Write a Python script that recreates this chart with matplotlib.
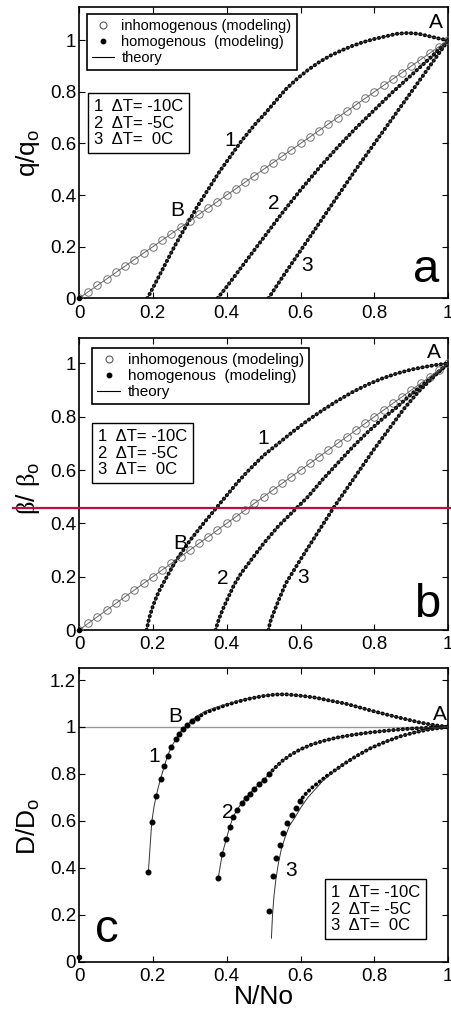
import matplotlib.pyplot as plt
import numpy as np
from matplotlib.lines import Line2D

plt.rcParams['font.family'] = ['Liberation Sans', 'DejaVu Sans']
plt.rcParams['mathtext.fontset'] = 'custom'
plt.rcParams['mathtext.rm'] = 'Liberation Sans'
plt.rcParams['mathtext.sf'] = 'Liberation Serif'

# inhomogenous medium: same relative curve in panels a and b
inh_n = [0.0, 0.025, 0.05, 0.075, 0.1, 0.125, 0.15, 0.175, 0.2, 0.225, 0.25, 0.275,
         0.3, 0.325, 0.35, 0.375, 0.4, 0.425, 0.45, 0.475, 0.5, 0.525, 0.55, 0.575,
         0.6, 0.625, 0.65, 0.675, 0.7, 0.725, 0.75, 0.775, 0.8, 0.825, 0.85, 0.875,
         0.9, 0.925, 0.95, 0.975, 1.0]
inh_val = [0.0, 0.025, 0.05, 0.075, 0.1, 0.125, 0.15, 0.175, 0.2, 0.225, 0.25, 0.275,
           0.3, 0.325, 0.35, 0.375, 0.4, 0.425, 0.45, 0.475, 0.5, 0.525, 0.55, 0.575,
           0.6, 0.625, 0.65, 0.675, 0.7, 0.725, 0.75, 0.775, 0.8, 0.825, 0.85, 0.875,
           0.9, 0.925, 0.95, 0.975, 1.0]
inh_theory_n = [0.0, 1.0]
inh_theory_val = [0.0, 1.0]

# panel a: q/qo, homogenous medium
a1_n = [0.185, 0.20, 0.22, 0.24, 0.26, 0.28, 0.30, 0.32, 0.34, 0.36, 0.38, 0.40, 0.42,
        0.44, 0.46, 0.48, 0.50, 0.53, 0.56, 0.59, 0.62, 0.65, 0.68, 0.71, 0.74, 0.77,
        0.80, 0.83, 0.86, 0.89, 0.92, 0.95, 0.98, 1.00]
a1_q = [0.0, 0.04, 0.095, 0.15, 0.205, 0.255, 0.305, 0.355, 0.40, 0.445, 0.49, 0.53, 0.57,
        0.61, 0.645, 0.68, 0.71, 0.76, 0.81, 0.85, 0.885, 0.915, 0.94, 0.96, 0.978, 0.993,
        1.005, 1.015, 1.025, 1.028, 1.025, 1.015, 1.005, 1.0]
a2_n = [0.375, 0.40, 0.45, 0.50, 0.55, 0.60, 0.65, 0.70, 0.75, 0.80, 0.85, 0.90, 0.95, 1.0]
a2_q = [0.0, 0.045, 0.14, 0.235, 0.33, 0.42, 0.505, 0.585, 0.66, 0.73, 0.80, 0.865, 0.93, 1.0]
a3_n = [0.513, 0.55, 0.60, 0.65, 0.70, 0.75, 0.80, 0.85, 0.90, 0.95, 1.0]
a3_q = [0.0, 0.08, 0.185, 0.29, 0.395, 0.50, 0.60, 0.70, 0.80, 0.90, 1.0]

# panel b: beta/beta_o
b1_n = [0.183, 0.19, 0.20, 0.21, 0.22, 0.24, 0.26, 0.28, 0.30, 0.32, 0.34, 0.36, 0.38,
        0.40, 0.43, 0.46, 0.50, 0.54, 0.58, 0.62, 0.66, 0.70, 0.74, 0.78, 0.82, 0.86,
        0.90, 0.94, 0.97, 1.0]
b1_beta = [0.0, 0.045, 0.09, 0.125, 0.155, 0.205, 0.255, 0.295, 0.335, 0.37, 0.405, 0.438,
           0.472, 0.505, 0.555, 0.60, 0.655, 0.70, 0.745, 0.787, 0.825, 0.86, 0.892, 0.92,
           0.943, 0.962, 0.977, 0.988, 0.995, 1.0]
b2_n = [0.370, 0.375, 0.38, 0.39, 0.40, 0.42, 0.44, 0.47, 0.50, 0.54, 0.58, 0.62, 0.66,
        0.70, 0.74, 0.78, 0.82, 0.86, 0.90, 0.94, 0.97, 1.0]
b2_beta = [0.0, 0.025, 0.045, 0.08, 0.11, 0.17, 0.215, 0.27, 0.325, 0.39, 0.445, 0.50,
           0.565, 0.625, 0.685, 0.74, 0.79, 0.835, 0.885, 0.93, 0.965, 1.0]
b3_n = [0.513, 0.516, 0.52, 0.53, 0.54, 0.56, 0.58, 0.60, 0.63, 0.66, 0.69, 0.72, 0.76,
        0.80, 0.84, 0.88, 0.92, 0.96, 1.0]
b3_beta = [0.0, 0.02, 0.04, 0.075, 0.11, 0.175, 0.22, 0.265, 0.33, 0.395, 0.46, 0.52,
           0.60, 0.68, 0.755, 0.83, 0.895, 0.95, 1.0]

# panel c: D/Do, theory curves
c1_n = [0.188, 0.192, 0.197, 0.203, 0.209, 0.215, 0.221, 0.231, 0.240, 0.250, 0.262,
        0.271, 0.282, 0.293, 0.307, 0.320, 0.343, 0.379, 0.40, 0.43, 0.46, 0.50, 0.53,
        0.56, 0.60, 0.64, 0.68, 0.72, 0.76, 0.80, 0.84, 0.88, 0.92, 0.96, 1.0]
c1_d = [0.385, 0.48, 0.595, 0.66, 0.705, 0.745, 0.78, 0.833, 0.878, 0.915, 0.947, 0.972,
        0.992, 1.01, 1.03, 1.047, 1.068, 1.088, 1.097, 1.11, 1.122, 1.133, 1.139, 1.139,
        1.133, 1.125, 1.112, 1.10, 1.083, 1.066, 1.05, 1.035, 1.02, 1.008, 1.0]
c2_n = [0.377, 0.388, 0.399, 0.408, 0.417, 0.428, 0.441, 0.451, 0.462, 0.474, 0.487,
        0.501, 0.515, 0.53, 0.55, 0.575, 0.60, 0.63, 0.66, 0.70, 0.74, 0.78, 0.82, 0.86,
        0.90, 0.95, 1.0]
c2_d = [0.356, 0.46, 0.523, 0.574, 0.615, 0.648, 0.676, 0.698, 0.716, 0.736, 0.755,
        0.776, 0.80, 0.825, 0.855, 0.883, 0.905, 0.925, 0.94, 0.955, 0.966, 0.975, 0.982,
        0.988, 0.993, 0.997, 1.0]
c3_n = [0.521, 0.524, 0.528, 0.533, 0.540, 0.548, 0.558, 0.570, 0.585, 0.60, 0.62, 0.64,
        0.66, 0.69, 0.72, 0.75, 0.79, 0.83, 0.87, 0.91, 0.95, 1.0]
c3_d = [0.10, 0.20, 0.28, 0.35, 0.42, 0.48, 0.53, 0.58, 0.615, 0.655, 0.70, 0.735, 0.77,
        0.81, 0.845, 0.875, 0.91, 0.937, 0.96, 0.977, 0.99, 1.0]

# panel c: modeling, sparse first steps then dense part
c1_dot_n = [0.188, 0.197, 0.209, 0.221, 0.231, 0.240, 0.250, 0.262, 0.271, 0.282, 0.293, 0.307, 0.320]
c1_dot_d = [0.384, 0.595, 0.705, 0.779, 0.833, 0.878, 0.915, 0.947, 0.972, 0.992, 1.01, 1.025, 1.039]
c1_mod_n = [0.320, 0.343, 0.379, 0.40, 0.43, 0.46, 0.50, 0.53, 0.56, 0.60, 0.64, 0.68,
            0.72, 0.76, 0.80, 0.84, 0.88, 0.92, 0.96, 1.0]
c1_mod_d = [1.039, 1.061, 1.082, 1.094, 1.108, 1.12, 1.132, 1.138, 1.139, 1.133, 1.125,
            1.112, 1.10, 1.083, 1.066, 1.05, 1.035, 1.02, 1.008, 1.0]
c2_dot_n = [0.377, 0.388, 0.399, 0.408, 0.417, 0.428, 0.441, 0.451, 0.462, 0.474, 0.487, 0.501, 0.515]
c2_dot_d = [0.356, 0.46, 0.523, 0.574, 0.615, 0.648, 0.676, 0.698, 0.716, 0.736, 0.755, 0.776, 0.80]
c2_mod_n = [0.515, 0.53, 0.55, 0.575, 0.60, 0.63, 0.66, 0.70, 0.74, 0.78, 0.82, 0.86, 0.90, 0.95, 1.0]
c2_mod_d = [0.80, 0.825, 0.855, 0.883, 0.905, 0.925, 0.94, 0.955, 0.966, 0.975, 0.982,
            0.988, 0.993, 0.997, 1.0]
c3_dot_n = [0.515, 0.524, 0.533, 0.544, 0.553, 0.564, 0.576, 0.588, 0.598]
c3_dot_d = [0.218, 0.366, 0.441, 0.498, 0.548, 0.591, 0.626, 0.655, 0.683]
c3_mod_n = [0.598, 0.612, 0.63, 0.65, 0.67, 0.69, 0.72, 0.75, 0.79, 0.83, 0.87, 0.91, 0.95, 1.0]
c3_mod_d = [0.683, 0.712, 0.74, 0.765, 0.79, 0.812, 0.845, 0.875, 0.91, 0.937, 0.96, 0.977, 0.99, 1.0]

ticks = [0, 0.2, 0.4, 0.6, 0.8, 1.0]
tick_labels = ['0', '0.2', '0.4', '0.6', '0.8', '1']
dT_text = '1  \u0394T= -10C\n2  \u0394T= -5C\n3  \u0394T=  0C'


def style_axes(ax, ymax, yticks, ylabels):
    ax.set_xlim(0, 1)
    ax.set_ylim(0, ymax)
    ax.set_xticks(ticks)
    ax.set_xticklabels(tick_labels)
    ax.set_yticks(yticks)
    ax.set_yticklabels(ylabels)
    ax.tick_params(direction='in', top=True, right=True, length=4, width=0.8,
                   labelsize=13.5)
    ax.tick_params(axis='x', pad=4.5)
    ax.tick_params(axis='y', pad=2)
    for s in ax.spines.values():
        s.set_linewidth(1.2)


def dotted(ax, n, y):
    ax.plot(n, y, color='k', lw=2.8, ls=(0, (0.1, 1.1)), dash_capstyle='round', zorder=3)


def theory(ax, n, y, color='0.2'):
    ax.plot(n, y, color=color, lw=0.7, zorder=4)


def main_legend(ax, anchor, size):
    h_inh = Line2D([], [], ls='none', marker='o', mfc='none', mec='0.35', ms=5, mew=0.8)
    h_hom = Line2D([], [], ls='none', marker='o', mfc='k', mec='k', ms=3.2)
    h_th = Line2D([], [], color='k', lw=0.8)
    leg = ax.legend([h_inh, h_hom, h_th],
                    ['inhomogenous (modeling)', 'homogenous  (modeling)', 'theory'],
                    loc='upper left', bbox_to_anchor=anchor, fontsize=size,
                    fancybox=False, edgecolor='k', framealpha=1, borderpad=0.35,
                    labelspacing=0.12, handlelength=1.5, handletextpad=0.5,
                    borderaxespad=0)
    leg.get_frame().set_linewidth(1.2)


def dT_box(ax, x, y):
    ax.text(x, y, dT_text, transform=ax.transAxes, ha='left', va='top', fontsize=12,
            linespacing=1.15, zorder=6,
            bbox=dict(boxstyle='square,pad=0.35', fc='white', ec='k', lw=1.0))


def labels(ax, items, size):
    for s, x, y in items:
        ax.text(x, y, s, ha='center', va='center', fontsize=size, zorder=6)


fig = plt.figure(figsize=(4.51, 10.17), dpi=100)
ax_a = fig.add_axes([0.1752, 0.7067, 0.8188, 0.2867])
ax_b = fig.add_axes([0.1752, 0.3805, 0.8188, 0.2868])
ax_c = fig.add_axes([0.1752, 0.0544, 0.8188, 0.2885])

# a
ax = ax_a
theory(ax, inh_theory_n, inh_theory_val, color='0.4')
ax.plot(inh_n, inh_val, ls='none', marker='o', mfc='none', mec='0.45', ms=5.4, mew=0.7, zorder=3)
for n, q in [(a1_n, a1_q), (a2_n, a2_q), (a3_n, a3_q)]:
    theory(ax, n, q)
    dotted(ax, n, q)
ax.plot([0], [0], 'k.', ms=6, clip_on=False, zorder=5)
style_axes(ax, 1.13, ticks, tick_labels)
ax.set_ylabel(r'q/q$_\mathrm{o}$', fontsize=19)
ax.yaxis.set_label_coords(-0.1, 0.5)
main_legend(ax, (0.022, 0.975), 10.5)
dT_box(ax, 0.040, 0.684)
labels(ax, [('A', 0.967, 1.07), ('B', 0.265, 0.342), ('1', 0.409, 0.613),
            ('2', 0.526, 0.368), ('3', 0.617, 0.129)], 15)
ax.text(0.939, 0.063, 'a', ha='center', va='baseline', fontsize=34)

# b
ax = ax_b
theory(ax, inh_theory_n, inh_theory_val, color='0.4')
ax.plot(inh_n, inh_val, ls='none', marker='o', mfc='none', mec='0.45', ms=5.4, mew=0.7, zorder=3)
for n, b in [(b1_n, b1_beta), (b2_n, b2_beta), (b3_n, b3_beta)]:
    theory(ax, n, b)
    dotted(ax, n, b)
ax.plot([0], [0], 'k.', ms=6, clip_on=False, zorder=5)
style_axes(ax, 1.094, ticks, tick_labels)
ax.set_ylabel(r'$\mathsf{\beta}$/ $\mathsf{\beta}_\mathrm{o}$', fontsize=19)
ax.yaxis.set_label_coords(-0.1, 0.487)
main_legend(ax, (0.035, 0.967), 11)
dT_box(ax, 0.051, 0.69)
labels(ax, [('A', 0.96, 1.04), ('B', 0.274, 0.325), ('1', 0.499, 0.719),
            ('2', 0.389, 0.194), ('3', 0.606, 0.198)], 15)
ax.text(0.944, 0.05, 'b', ha='center', va='baseline', fontsize=34)

# c
ax = ax_c
ax.axhline(1.0, color='0.6', lw=1.0, zorder=1)
theory(ax, c1_n, c1_d)
theory(ax, c2_n, c2_d)
theory(ax, c3_n, c3_d)
for n, d in [(c1_dot_n, c1_dot_d), (c2_dot_n, c2_dot_d), (c3_dot_n, c3_dot_d)]:
    ax.plot(n, d, ls='none', marker='o', color='k', ms=3.3, zorder=5)
for n, d in [(c1_mod_n, c1_mod_d), (c2_mod_n, c2_mod_d), (c3_mod_n, c3_mod_d)]:
    dotted(ax, n, d)
ax.plot([0], [0.02], 'k.', ms=6, clip_on=False, zorder=5)
style_axes(ax, 1.25, [0, 0.2, 0.4, 0.6, 0.8, 1.0, 1.2],
           ['0', '0.2', '0.4', '0.6', '0.8', '1', '1.2'])
ax.set_ylabel(r'D/D$_\mathrm{o}$', fontsize=19)
ax.yaxis.set_label_coords(-0.1, 0.46)
ax.set_xlabel('N/No', fontsize=19)
ax.xaxis.set_label_coords(0.5, -0.079)
dT_box(ax, 0.682, 0.262)
labels(ax, [('A', 0.978, 1.053), ('B', 0.26, 1.046), ('1', 0.203, 0.875),
            ('2', 0.403, 0.634), ('3', 0.574, 0.389)], 15)
ax.text(0.075, 0.085, 'c', ha='center', va='baseline', fontsize=34)

# horizontal marker line across the middle of the sheet
fig.add_artist(Line2D([0.029, 1.0], [0.5002, 0.5002], transform=fig.transFigure,
                      color='#B5123E', lw=1.6, zorder=10))

fig.savefig('out.png', dpi=100)
